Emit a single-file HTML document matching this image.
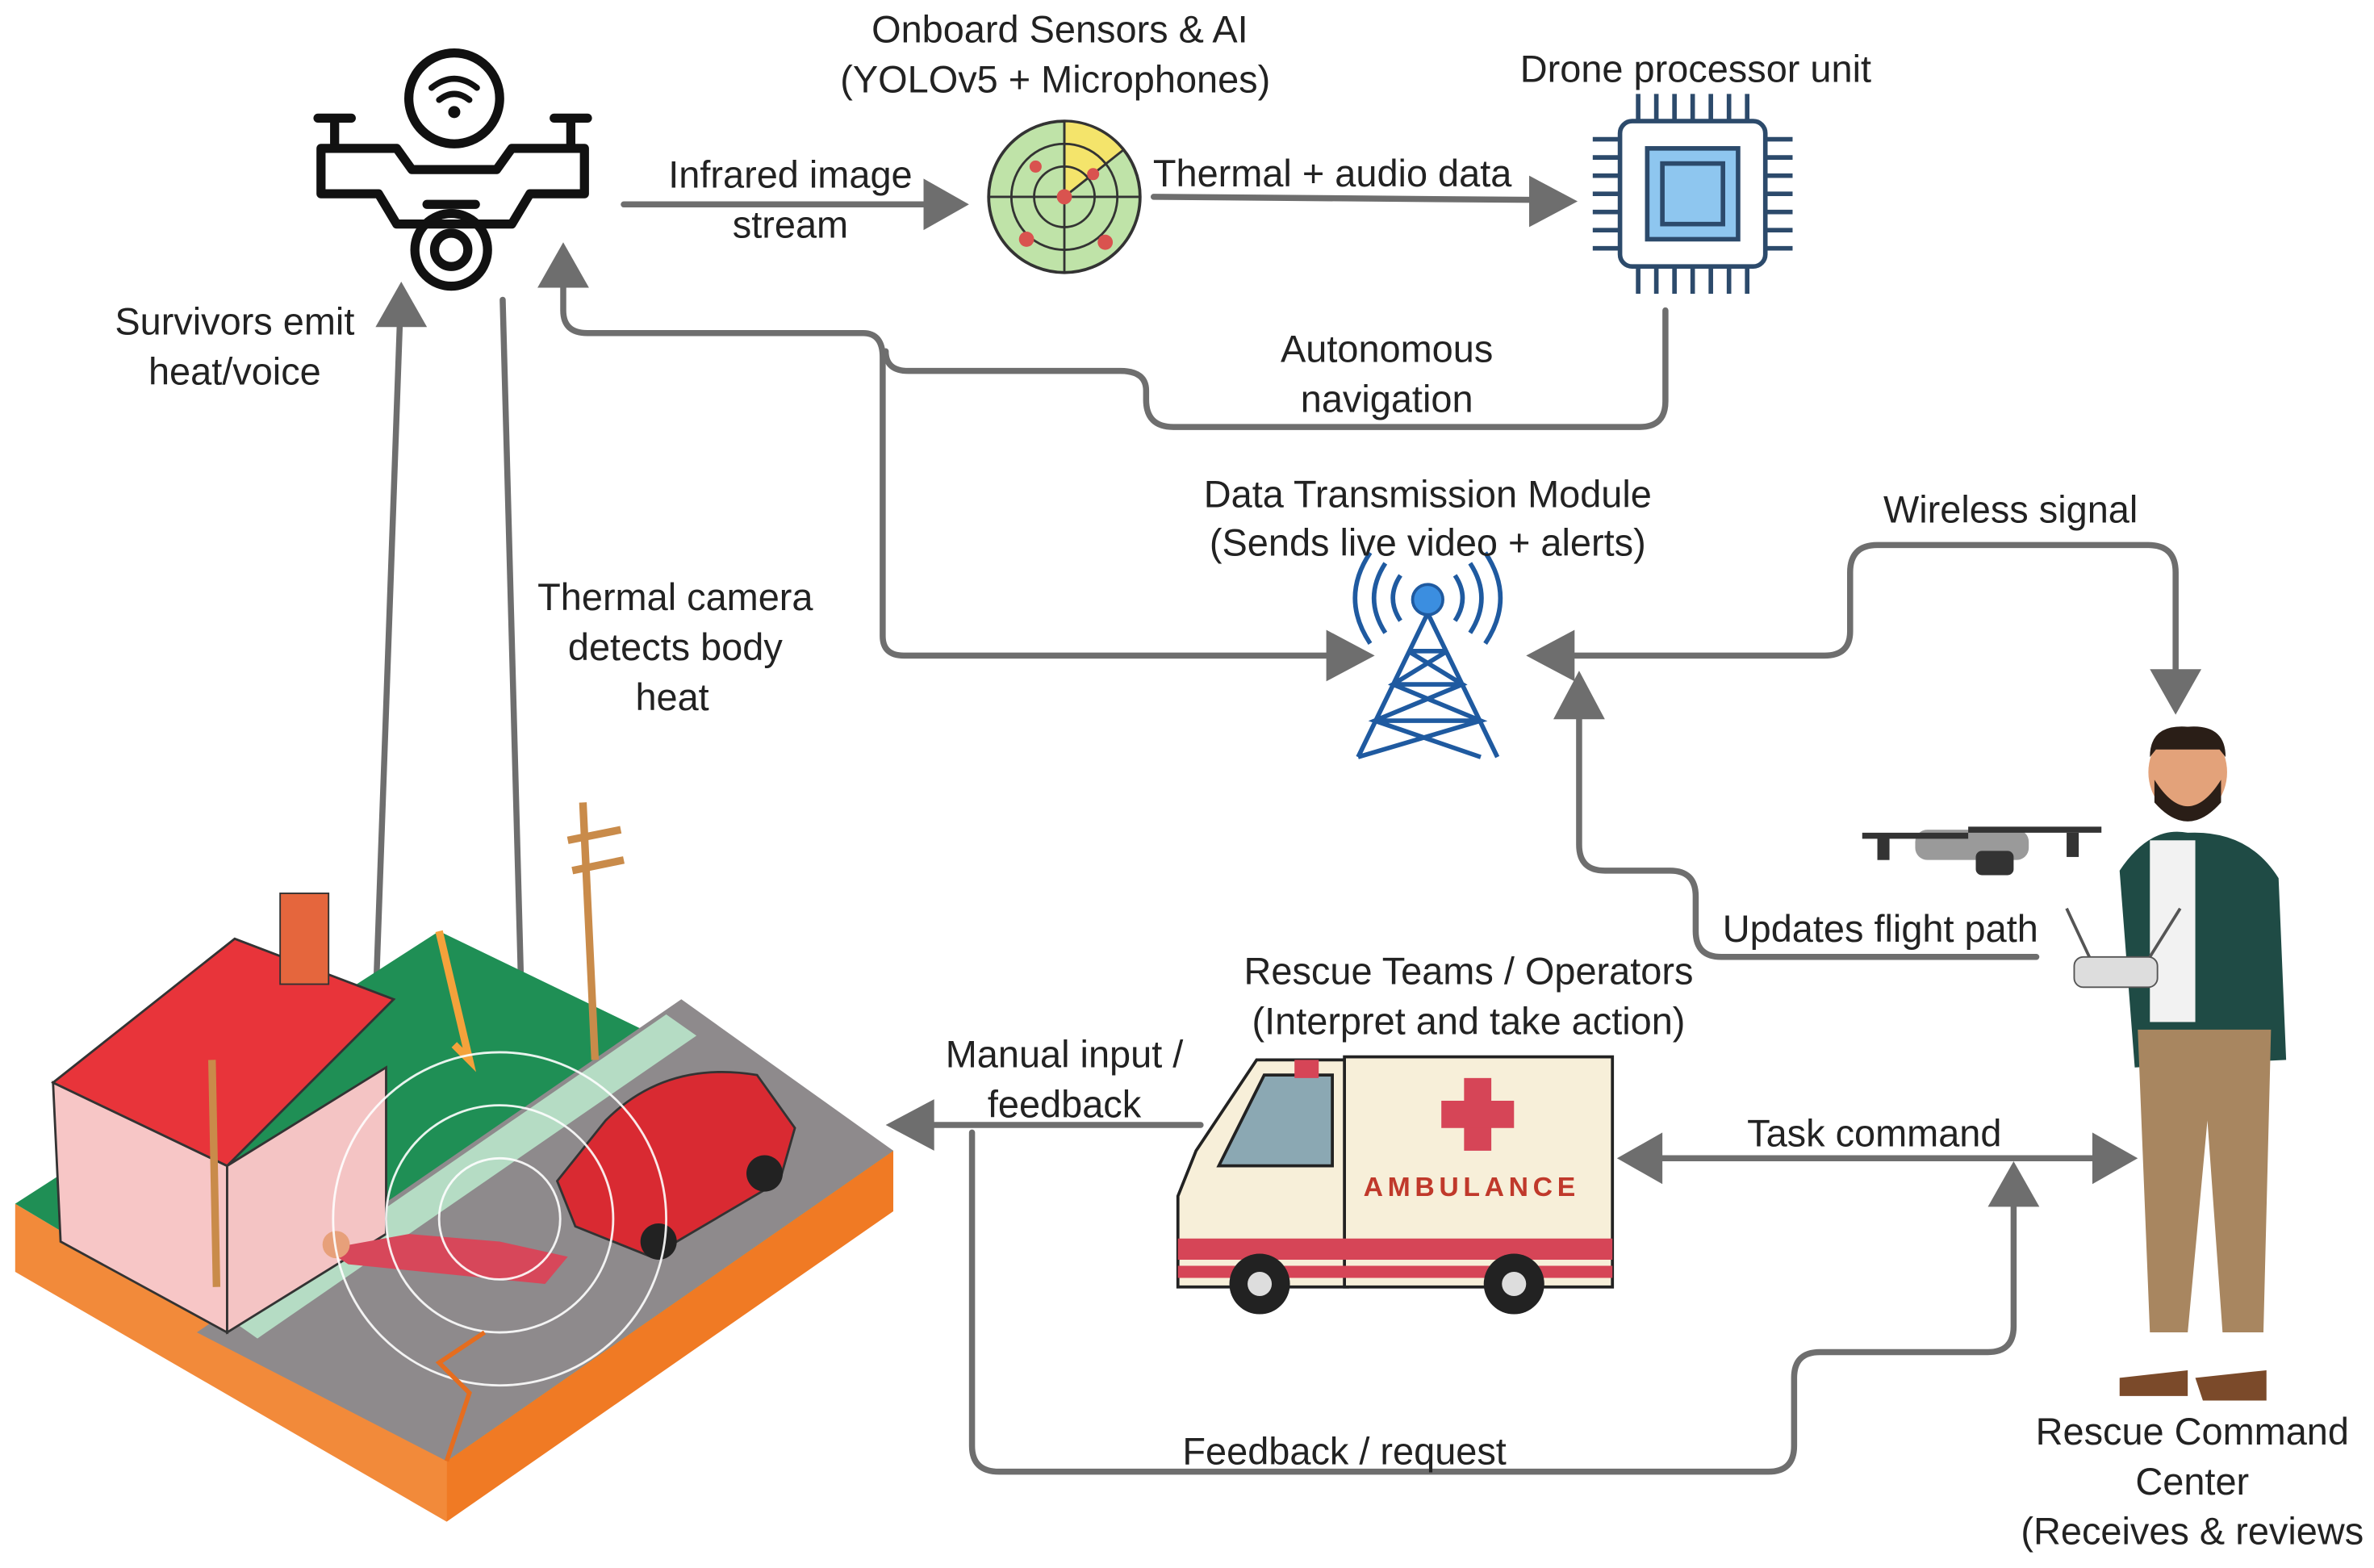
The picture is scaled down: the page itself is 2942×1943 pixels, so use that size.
<!DOCTYPE html>
<html><head><meta charset="utf-8"><style>
html,body{margin:0;padding:0;background:#fff;}
svg{display:block;}
text{font-family:"Liberation Sans",sans-serif;font-size:25px;fill:#222;text-anchor:middle;}
</style></head><body>
<svg width="2942" height="1943" viewBox="0 0 1568 1035.6" xmlns="http://www.w3.org/2000/svg">
<g fill="none" stroke="#6e6e6e" stroke-width="4" stroke-linecap="round" stroke-linejoin="round">
<line x1="412" y1="135" x2="612" y2="135"/>
<line x1="762" y1="130" x2="1012" y2="132"/>
<path d="M1100 205 V265 Q1100 282 1083 282 H775 Q757 282 757 264 V258 Q757 245 740 245 H600 Q585 245 585 232"/>
<path d="M372 188 V205 Q372 220 388 220 H570 Q583 220 583 236 V420 Q583 433 597 433 H878"/>
<path d="M1437 445 V378 Q1437 360 1419 360 H1240 Q1222 360 1222 378 V417 Q1222 433 1205 433 H1040"/>
<path d="M1345 632 H1137 Q1120 632 1120 615 V592 Q1120 575 1103 575 H1060 Q1043 575 1043 558 V475"/>
<line x1="1095" y1="765" x2="1383" y2="765"/>
<line x1="793" y1="743" x2="617" y2="743"/>
<path d="M642 748 V955 Q642 972 660 972 H1168 Q1185 972 1185 955 V910 Q1185 893 1202 893 H1313 Q1330 893 1330 876 V797"/>
<line x1="243" y1="805" x2="264" y2="215"/>
<line x1="332" y1="198" x2="348" y2="795"/>
</g>
<g fill="#6e6e6e">
<polygon points="640,135 610,118 610,152"/>
<polygon points="1042,133 1010,116 1010,150"/>
<polygon points="372,160 355,190 389,190"/>
<polygon points="908,433 876,416 876,450"/>
<polygon points="1437,472 1420,442 1454,442"/>
<polygon points="1008,433 1040,416 1040,450"/>
<polygon points="1043,443 1026,475 1060,475"/>
<polygon points="1068,765 1098,748 1098,782"/>
<polygon points="1412,765 1382,748 1382,782"/>
<polygon points="585,743 617,726 617,760"/>
<polygon points="1330,767 1313,797 1347,797"/>
<polygon points="265,186 248,216 282,216"/>
<polygon points="350,822 333,795 367,795"/>
</g>

<g fill="none" stroke="#111" stroke-width="6" stroke-linecap="round" stroke-linejoin="round">
<circle cx="300" cy="65" r="30"/>
<path d="M210 78 H232 M221 78 V95 M366 78 H388 M377 78 V95"/>
<path d="M212 98 H262 L272 112 H328 L338 98 H386 V128 H350 L338 148 H262 L250 128 H212 Z"/>
<circle cx="298" cy="165" r="24"/>
<circle cx="298" cy="165" r="11"/>
<path d="M282 135 H314"/>
</g>
<g fill="none" stroke="#111" stroke-width="4" stroke-linecap="round">
<path d="M285 58 Q300 46 315 58"/><path d="M290 66 Q300 58 310 66"/>
</g>
<circle cx="300" cy="74" r="4" fill="#111"/>

<circle cx="703" cy="130" r="50" fill="#bfe3a8" stroke="#333" stroke-width="2"/>
<path d="M703 130 L703 80 A50 50 0 0 1 742 99 Z" fill="#f4e46b" stroke="#333" stroke-width="1.5"/>
<g fill="none" stroke="#333" stroke-width="1.5"><circle cx="703" cy="130" r="35"/><circle cx="703" cy="130" r="20"/><line x1="653" y1="130" x2="753" y2="130"/><line x1="703" y1="80" x2="703" y2="180"/></g>
<g fill="#d9534f"><circle cx="703" cy="130" r="5"/><circle cx="678" cy="158" r="5"/><circle cx="730" cy="160" r="5"/><circle cx="684" cy="110" r="4"/><circle cx="722" cy="115" r="4"/></g>

<g stroke="#2c4a6b" stroke-width="3" fill="none">
<rect x="1070" y="80" width="96" height="96" rx="8" fill="#fff"/>
<rect x="1088" y="98" width="60" height="60" fill="#8ec6ef"/>
<rect x="1098" y="108" width="40" height="40"/>
<path d="M1082 80V62 M1094 80V62 M1106 80V62 M1118 80V62 M1130 80V62 M1142 80V62 M1154 80V62 M1082 176V194 M1094 176V194 M1106 176V194 M1118 176V194 M1130 176V194 M1142 176V194 M1154 176V194 M1070 92H1052 M1070 104H1052 M1070 116H1052 M1070 128H1052 M1070 140H1052 M1070 152H1052 M1070 164H1052 M1166 92H1184 M1166 104H1184 M1166 116H1184 M1166 128H1184 M1166 140H1184 M1166 152H1184 M1166 164H1184"/>
</g>

<g stroke="#1f5aa0" stroke-width="3" fill="none">
<path d="M943 405 L897 500 M943 405 L989 500 M930 430 H956 M920 452 H966 M908 476 H978 M930 430 L966 452 L908 476 L978 500 M956 430 L920 452 L978 476 L897 500"/>
<path d="M925 380 Q915 395 925 410 M915 372 Q900 395 915 418 M905 365 Q885 395 905 425 M961 380 Q971 395 961 410 M971 372 Q986 395 971 418 M981 365 Q1001 395 981 425"/>
</g>
<circle cx="943" cy="396" r="10" fill="#3b8ee0" stroke="#1f5aa0" stroke-width="2"/>

<g>
<rect x="1265" y="548" width="75" height="20" rx="8" fill="#9a9a9a"/>
<path d="M1230 552 H1300 M1300 548 H1388" stroke="#333" stroke-width="4"/>
<rect x="1240" y="552" width="8" height="16" fill="#333"/><rect x="1365" y="550" width="8" height="16" fill="#333"/>
<rect x="1305" y="562" width="25" height="16" rx="4" fill="#333"/>
</g>

<g>
<ellipse cx="1445" cy="510" rx="26" ry="30" fill="#e3a27a"/>
<path d="M1420 500 Q1420 478 1445 480 Q1470 478 1470 500 L1466 495 L1424 495 Z" fill="#2a1e17"/>
<path d="M1423 515 Q1445 550 1467 515 L1467 530 Q1445 555 1423 530Z" fill="#2a1e17"/>
<path d="M1400 575 Q1420 545 1445 550 Q1485 548 1505 580 L1510 700 L1410 705 Z" fill="#1f4b45"/>
<rect x="1420" y="555" width="30" height="120" fill="#f2f2f2"/>
<path d="M1412 680 H1500 L1495 880 H1468 L1458 740 L1445 880 H1420 Z" fill="#a88660"/>
<path d="M1400 910 L1445 905 L1445 922 L1400 922Z M1450 910 L1497 905 L1497 925 L1455 925Z" fill="#7b4a2a"/>
<rect x="1370" y="632" width="55" height="20" rx="6" fill="#ddd" stroke="#555"/>
<path d="M1365 600 L1380 632 M1440 600 L1420 632" stroke="#555" stroke-width="2"/>
</g>

<g>
<path d="M790 760 L830 700 H890 V850 H778 V790 Z" fill="#f7efd9" stroke="#222" stroke-width="2"/>
<rect x="888" y="698" width="177" height="152" fill="#f7efd9" stroke="#222" stroke-width="2"/>
<path d="M805 770 L835 710 H880 V770 Z" fill="#8ba8b3" stroke="#222" stroke-width="2"/>
<rect x="778" y="818" width="287" height="14" fill="#d64557"/>
<rect x="778" y="836" width="287" height="8" fill="#d64557"/>
<rect x="855" y="700" width="16" height="12" fill="#d64557"/>
<g fill="#d64557"><rect x="967" y="712" width="18" height="48"/><rect x="952" y="727" width="48" height="18"/></g>
<text x="972" y="790" style="font-size:18px;font-weight:bold;fill:#c0392b;letter-spacing:3px">AMBULANCE</text>
<circle cx="832" cy="848" r="20" fill="#222"/><circle cx="832" cy="848" r="8" fill="#ddd"/>
<circle cx="1000" cy="848" r="20" fill="#222"/><circle cx="1000" cy="848" r="8" fill="#ddd"/>
</g>

<g>
<polygon points="10,795 295,965 295,1005 10,840" fill="#f28a3a"/>
<polygon points="295,965 590,760 590,800 295,1005" fill="#f07a24"/>
<polygon points="10,795 290,615 590,760 295,965" fill="#1f8f55"/>
<polygon points="130,880 450,660 590,760 295,965" fill="#8e8a8c"/>
<polygon points="150,870 440,670 460,684 170,884" fill="#b5dcc4"/>
<polygon points="35,715 40,820 150,880 150,770" fill="#f7c6c6" stroke="#333" stroke-width="1.5"/>
<polygon points="150,770 150,880 255,815 255,705" fill="#f4c4c4" stroke="#333" stroke-width="1.5"/>
<polygon points="35,715 155,620 260,660 150,770" fill="#e8343a" stroke="#333" stroke-width="1.5"/>
<rect x="185" y="590" width="32" height="60" fill="#e5663d" stroke="#333"/>
<path d="M385 530 L393 700 M375 555 L410 548 M378 575 L412 568" stroke="#c98b4a" stroke-width="5"/>
<path d="M140 700 L143 850" stroke="#c98b4a" stroke-width="5"/>
<path d="M290 615 L310 700 L300 690" stroke="#f4a23b" stroke-width="5" fill="none"/>
<path d="M400 740 Q440 700 500 710 L525 745 L515 780 L430 830 L380 810 L368 780 Z" fill="#d92a32" stroke="#333" stroke-width="1.5"/>
<circle cx="435" cy="820" r="12" fill="#222"/><circle cx="505" cy="775" r="12" fill="#222"/>
<path d="M215 825 L270 815 L330 820 L375 830 L360 848 L300 842 L230 835 Z" fill="#d7475a"/>
<circle cx="222" cy="822" r="9" fill="#e7a07a"/>
<g fill="none" stroke="#fff" stroke-width="1.5" opacity="0.9"><circle cx="330" cy="805" r="40"/><circle cx="330" cy="805" r="75"/><circle cx="330" cy="805" r="110"/></g>
<path d="M295 965 L310 920 L290 900 L320 880" stroke="#e56d1f" stroke-width="3" fill="none"/>
</g>

<text x="700" y="28">Onboard Sensors &amp; AI</text>
<text x="697" y="61">(YOLOv5 + Microphones)</text>
<text x="1120" y="54">Drone processor unit</text>
<text x="522" y="124">Infrared image</text>
<text x="522" y="157">stream</text>
<text x="880" y="123">Thermal + audio data</text>
<text x="916" y="239">Autonomous</text>
<text x="916" y="272">navigation</text>
<text x="155" y="221">Survivors emit</text>
<text x="155" y="254">heat/voice</text>
<text x="943" y="335">Data Transmission Module</text>
<text x="943" y="367">(Sends live video + alerts)</text>
<text x="1328" y="345">Wireless signal</text>
<text x="446" y="403">Thermal camera</text>
<text x="446" y="436">detects body</text>
<text x="444" y="469">heat</text>
<text x="1242" y="622">Updates flight path</text>
<text x="970" y="650">Rescue Teams / Operators</text>
<text x="970" y="683">(Interpret and take action)</text>
<text x="703" y="705">Manual input /</text>
<text x="703" y="738">feedback</text>
<text x="1238" y="757">Task command</text>
<text x="888" y="967">Feedback / request</text>
<text x="1448" y="954">Rescue Command</text>
<text x="1448" y="987">Center</text>
<text x="1448" y="1020">(Receives &amp; reviews</text>
</svg>
</body></html>
